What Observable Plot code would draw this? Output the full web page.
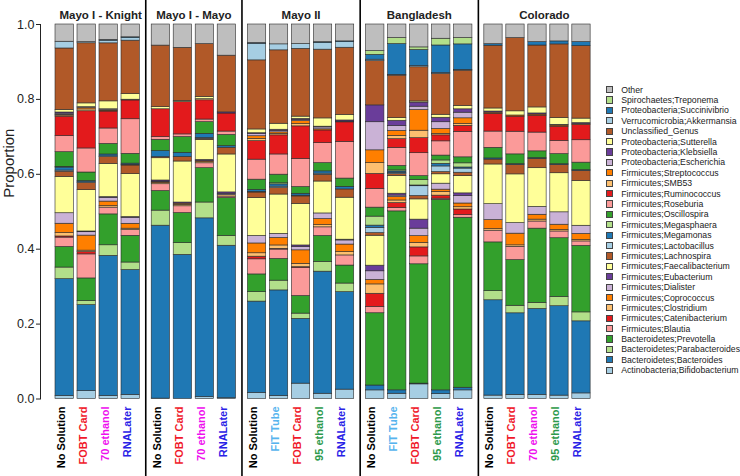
<!DOCTYPE html>
<html><head><meta charset="utf-8">
<script src="https://cdn.jsdelivr.net/npm/d3@7"></script>
<script src="https://cdn.jsdelivr.net/npm/@observablehq/plot@0.6"></script>
<style>
body{margin:0;background:#fff;font-family:"Liberation Sans",Arial,sans-serif;}
#wrap{position:relative;width:740px;height:476px;}
#legend{position:absolute;left:606px;top:84.5px;font-size:8.7px;color:#222;}
.row{display:flex;align-items:center;height:10.4px;white-space:nowrap;}
.sw{width:5.2px;height:5.2px;border:0.9px solid #444;margin-right:8px;flex:none;}
</style></head><body>
<div id="wrap"><div id="chart"></div><div id="legend"></div></div>
<script>
// categories, bottom of stack to top
const categories = [
  "Actinobacteria;Bifidobacterium","Bacteroidetes;Bacteroides","Bacteroidetes;Parabacteroides",
  "Bacteroidetes;Prevotella","Firmicutes;Blautia","Firmicutes;Catenibacterium","Firmicutes;Clostridium",
  "Firmicutes;Coprococcus","Firmicutes;Dialister","Firmicutes;Eubacterium","Firmicutes;Faecalibacterium",
  "Firmicutes;Lachnospira","Firmicutes;Lactobacillus","Firmicutes;Megamonas","Firmicutes;Megasphaera",
  "Firmicutes;Oscillospira","Firmicutes;Roseburia","Firmicutes;Ruminococcus","Firmicutes;SMB53",
  "Firmicutes;Streptococcus","Proteobacteria;Escherichia","Proteobacteria;Klebsiella",
  "Proteobacteria;Sutterella","Unclassified_Genus","Verrucomicrobia;Akkermansia",
  "Proteobacteria;Succinivibrio","Spirochaetes;Treponema","Other"
];
const groupNames = ["Mayo I - Knight","Mayo I - Mayo","Mayo II","Bangladesh","Colorado"];
const knightLabels = ["No Solution","FOBT Card","70 ethanol","RNALater"];
const mayoLabels = ["No Solution","FOBT Card","70 ethanol","RNALater"];
const mayo2Labels = ["No Solution","FIT Tube","FOBT Card","95 ethanol","RNALater"];
const bangladeshLabels = ["No Solution","FIT Tube","FOBT Card","95 ethanol","RNALater"];
const coloradoLabels = ["No Solution","FOBT Card","70 ethanol","95 ethanol","RNALater"];
const labelColors = {"No Solution":"#000000","FOBT Card":"#f0192b","70 ethanol":"#ee10ee",
  "RNALater":"#2a22e6","FIT Tube":"#56b4ee","95 ethanol":"#2e9a4c"};

// proportions per bar, in category order
const knightValues = [
  [.008,.312,.031,.055,.025,.003,.009,.025,.028,0,.097,.014,.003,.008,.002,.039,.043,.052,.003,.002,.003,.003,.007,.164,.018,0,0,.046],
  [.021,.229,.011,.060,.064,.006,.004,.040,.009,.002,.110,.019,.002,.003,0,.023,.064,.099,.005,.004,.002,0,.010,.160,.003,0,0,.047],
  [.008,.372,.028,.082,.018,0,.004,.012,.010,.002,.088,.018,.002,.005,0,.028,.041,.045,.002,.002,.002,0,.021,.154,.007,.002,0,.041],
  [.011,.332,.020,.071,.015,0,.004,.013,.016,.002,.114,.023,.002,.003,0,.026,.092,.050,0,0,0,.002,.015,.142,.007,.002,0,.034]
];
const mayoValues = [
  [.001,.459,.040,.052,.018,0,.003,.002,.002,.003,.059,.003,0,.016,0,.030,.007,.074,0,0,0,0,.006,.163,0,0,0,.056],
  [0,.383,.031,.080,.018,0,.004,.003,0,.003,.109,.012,0,.011,0,.042,.007,.086,0,0,0,0,.003,.141,0,0,0,.062],
  [.005,.474,.042,.091,.013,0,.003,.003,0,.003,.053,.003,.002,.011,0,.031,.007,.051,.003,0,0,0,.006,.140,0,0,0,.052],
  [.002,.406,.026,.101,.004,0,.004,0,.003,.004,.101,.018,0,.004,0,.030,.009,.048,0,0,0,.003,0,.151,0,0,0,.083]
];
const mayo2Values = [
  [.016,.242,.025,.047,.040,.007,.009,.026,.020,0,.100,.015,.002,.005,0,.027,.053,.049,.006,.007,.006,.002,.010,.183,.044,.002,0,.049],
  [.008,.282,.026,.058,.025,.002,.009,.020,.011,0,.105,.017,.004,.006,.003,.023,.054,.051,.004,.004,.004,.003,.016,.196,.016,0,0,.053],
  [.041,.173,.014,.047,.075,.002,.009,.036,.009,.004,.111,.020,.002,.005,0,.018,.075,.087,.006,.008,.003,.003,.006,.181,.013,0,0,.052],
  [.014,.325,.026,.069,.023,0,.006,.016,.015,0,.085,.018,.003,.006,0,.022,.053,.034,0,.003,.005,.002,.022,.183,.018,.002,0,.047],
  [.025,.260,.023,.048,.027,0,.009,.020,.011,.002,.112,.022,0,.007,0,.022,.098,.052,0,0,.002,.003,.015,.179,.015,.002,0,.045]
];
const bangladeshValues = [
  [.023,.013,0,.193,.017,.035,.025,.012,.023,.015,.080,.007,.014,.006,.024,.024,.050,.040,.029,.034,.075,.045,0,.118,.004,.013,.010,.071],
  [.014,.009,0,.476,.009,.013,.007,.009,.004,.005,.047,.005,.003,.004,.003,.012,.048,.023,.009,.013,.013,.014,.007,.113,.002,.082,.016,.036],
  [.039,.002,0,.318,.021,.024,.012,.018,.020,.024,.054,.009,.026,.002,.015,.010,.061,.040,.020,.055,.009,.011,.003,.091,.003,.043,.007,.061],
  [.013,.010,0,.509,.003,.008,.010,.006,.016,0,.025,.006,.015,.007,.009,.013,.038,.016,.004,.013,.018,.012,.008,.109,.002,.074,.018,.038],
  [.023,.007,0,.453,.007,.015,.006,.010,.020,.007,.046,.009,.011,.003,.011,.016,.068,.016,.005,.015,.015,.009,.009,.094,.002,.068,.017,.036]
];
const coloradoValues = [
  [.009,.252,.024,.129,.031,0,.004,.024,.042,0,.105,.013,0,.003,0,.028,.043,.047,0,.003,0,.003,.008,.166,0,.004,0,.052],
  [.011,.216,.020,.121,.035,0,.004,.031,.028,0,.129,.025,0,.002,0,.026,.060,.040,0,.003,0,0,.011,.194,0,0,0,.036],
  [.011,.229,.016,.198,.019,0,.005,.013,.021,0,.103,.025,0,.002,0,.018,.050,.045,0,.003,0,.003,.016,.165,0,.009,0,.047],
  [.009,.238,.025,.156,.018,0,.004,.014,.033,0,.104,.022,0,.002,0,.027,.035,.038,0,.003,0,.002,.018,.196,0,.008,0,.045],
  [.015,.193,.024,.178,.012,0,.004,.016,.022,0,.120,.027,0,.002,0,.020,.060,.041,0,.002,0,.003,.012,.194,0,.011,0,.047]
];

const groupLabels = [knightLabels, mayoLabels, mayo2Labels, bangladeshLabels, coloradoLabels];
const groupValues = [knightValues, mayoValues, mayo2Values, bangladeshValues, coloradoValues];

const paired = d3.schemePaired;
const colors = categories.map((c, i) => i === categories.length - 1 ? "#bebebe" : paired[i % 12]);

// layout in bar-pitch units
const BAR_W = 0.832, GROUP_GAP = 0.373, RIGHT_PAD = 0.9;
const rows = [], bars = [], panels = [];
let idx = 0;
groupNames.forEach((name, gi) => {
  const start = idx + gi * GROUP_GAP;
  groupLabels[gi].forEach((lab, j) => {
    const pos = idx + gi * GROUP_GAP;
    bars.push({id: idx, group: name, label: lab, xc: pos + BAR_W / 2});
    groupValues[gi][j].forEach((v, k) => {
      if (v > 0) rows.push({id: idx, x1: pos, x2: pos + BAR_W, cat: categories[k], value: v});
    });
    idx++;
  });
  const end = (idx - 1) + gi * GROUP_GAP + BAR_W;
  panels.push({name, start, end});
});
const dividers = [];
for (let g = 0; g < panels.length - 1; g++) dividers.push((panels[g].end + panels[g + 1].start) / 2);
const xMax = panels[panels.length - 1].end + RIGHT_PAD;
const edges = [0, ...dividers, xMax];
panels.forEach((p, g) => p.xc = (edges[g] + edges[g + 1]) / 2);

const font = '"Liberation Sans", Arial, sans-serif';
const labelMarks = Object.entries(labelColors).map(([lab, col]) =>
  Plot.text(bars.filter(b => b.label === lab), {x: "xc", text: "label", fill: col, rotate: -90,
    textAnchor: "end", frameAnchor: "bottom", dy: 7.5, fontWeight: "bold", fontSize: 11}));

const chart = Plot.plot({
  width: 740, height: 476,
  marginTop: 24, marginBottom: 77.5, marginLeft: 40, marginRight: 130,
  style: {fontFamily: font, background: "white", color: "#222"},
  x: {type: "linear", domain: [0, xMax], range: [55, 55 + 22 * xMax], axis: null},
  y: {domain: [0, 1]},
  color: {domain: categories, range: colors},
  marks: [
    Plot.rectY(rows, Plot.stackY({x: "id", x1: "x1", x2: "x2", y: "value", fill: "cat",
      offset: "normalize", stroke: "#2b2b2b", strokeWidth: 0.6})),
    Plot.axisY({ticks: [0, 0.2, 0.4, 0.6, 0.8, 1], tickFormat: ".1f", tickSize: 4, tickPadding: 2,
      fontSize: 12.5, label: null}),
    Plot.frame({anchor: "left", stroke: "#222"}),
    Plot.text(["Proportion"], {frameAnchor: "left", rotate: -90, dx: -31, dy: -14, fontSize: 15}),
    Plot.ruleX(dividers, {stroke: "#000", strokeWidth: 1.6, insetTop: -24, insetBottom: -77.5}),
    Plot.text(panels, {x: "xc", text: "name", frameAnchor: "top", dy: -14, fontWeight: "bold", fontSize: 11.5, fill: "#222"}),
    ...labelMarks
  ]
});
document.getElementById("chart").appendChild(chart);

const legend = document.getElementById("legend");
categories.map((c, i) => ({c, col: colors[i]})).reverse().forEach(({c, col}) => {
  const row = document.createElement("div");
  row.className = "row";
  const sw = document.createElement("div");
  sw.className = "sw";
  sw.style.background = col;
  const t = document.createElement("span");
  t.textContent = c;
  row.appendChild(sw); row.appendChild(t);
  legend.appendChild(row);
});
</script>
</body></html>
